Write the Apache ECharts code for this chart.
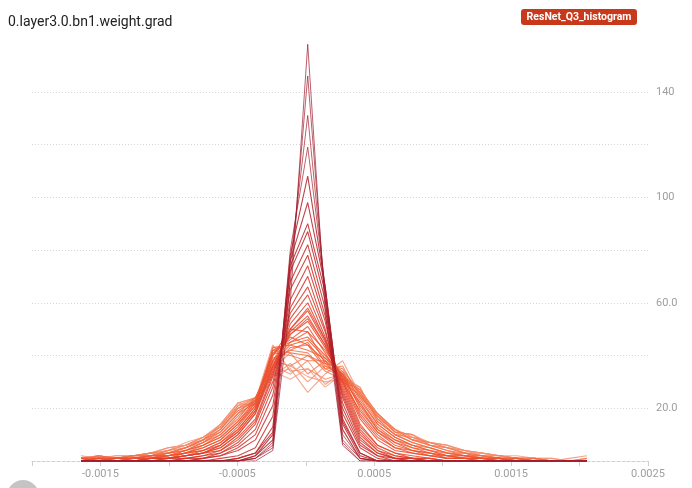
<!DOCTYPE html>
<html><head><meta charset="utf-8">
<script src="https://cdn.jsdelivr.net/npm/echarts@6/dist/echarts.min.js"></script>
<style>html,body{margin:0;padding:0;background:#fff}#c{width:692px;height:488px}</style>
</head><body><div id="c"></div>
<script>
const chartTitle = '0.layer3.0.bn1.weight.grad';
const runName = 'ResNet_Q3_histogram';

const binCenters = [-0.001642,-0.0015146,-0.0013872,-0.0012598,-0.0011324,-0.001005,-0.0008776,-0.0007502,-0.0006228,-0.0004954,
  -0.000368,-0.0002406,-0.0001132,0.0000142,0.0001416,0.000269,0.0003964,0.0005238,0.0006512,0.0007786,
  0.000906,0.0010334,0.0011608,0.0012882,0.0014156,0.001543,0.0016704,0.0017978,0.0019252,0.0020526];

const earlySteps = [
  [0,0,0,0,0,0,0,0,0,0,0,4,60,158,57,6,0,0,0,0,0,0,0,0,0,0,0,0,0,0],
  [0,0,0,0,0,0,0,0,0,0,1,5,68,146,61,7,0,0,0,0,0,0,0,0,0,0,0,0,0,0],
  [0,0,0,0,0,0,0,0,0,0,1,6,75,131,64,8,1,0,0,0,0,0,0,0,0,0,0,0,0,0],
  [0,0,0,0,0,0,0,0,0,0,1,7,80,119,66,10,1,0,0,0,0,0,0,0,0,0,0,0,0,0],
  [0,0,0,0,0,0,0,0,0,0,2,8,78,108,66,12,1,0,0,0,0,0,0,0,0,0,0,0,0,0],
  [0,0,0,0,0,0,0,0,0,0,2,10,76,98,66,14,2,0,0,0,0,0,0,0,0,0,0,0,0,0],
  [0,0,0,0,0,0,0,0,0,1,3,11,74,90,64,15,3,0,0,0,0,0,0,0,0,0,0,0,0,0],
  [0,0,0,0,0,0,0,0,0,1,3,13,72,87,61,16,3,0,0,0,0,0,0,0,0,0,0,0,0,0]
];
const midSteps = [
  [0,0,0,0,0,0,0,0,1,2,5,17,68,82,58,18,5,1,0,0,0,0,0,0,0,0,0,0,0,0],
  [0,0,0,0,0,0,0,1,2,4,8,21,65,78,55,20,6,2,0,0,0,0,0,0,0,0,0,0,0,0],
  [0,0,0,0,0,0,0,1,2,5,10,25,61,74,53,22,7,2,1,0,0,0,0,0,0,0,0,0,0,0],
  [0,0,0,0,0,0,1,1,3,6,12,28,58,70,50,24,8,3,1,0,0,0,0,0,0,0,0,0,0,0],
  [0,0,0,0,0,0,1,2,3,7,14,30,56,66,49,25,9,3,1,1,0,0,0,0,0,0,0,0,0,0],
  [0,0,0,0,0,1,1,2,4,8,15,32,54,63,47,26,10,4,1,1,0,0,0,0,0,0,0,0,0,0],
  [0,0,0,0,0,1,2,3,4,9,16,33,52,60,46,27,11,4,2,1,0,0,0,0,0,0,0,0,0,0],
  [0,0,0,0,1,1,2,3,5,10,18,34,50,57,45,28,12,5,2,1,1,0,0,0,0,0,0,0,0,0],
  [0,0,0,0,1,1,2,3,6,11,19,35,49,55,44,29,13,6,3,1,1,0,0,0,0,0,0,0,0,0],
  [0,0,0,0,1,1,2,4,6,12,20,36,48,53,43,30,14,6,3,2,1,0,0,0,0,0,0,0,0,0]
];
const lateSteps = [
  [0,0,0,0,1,1,2,3,5,10,18,36,50,58,46,30,16,8,4,3,2,1,1,0,0,0,0,0,0,0],
  [0,1,0,1,1,1,2,3,6,11,19,38,48,54,44,31,17,9,5,3,2,1,1,1,0,0,0,0,0,0],
  [0,0,1,1,1,1,3,4,7,12,20,40,50,49,42,32,18,10,5,4,2,2,1,0,1,0,0,0,0,0],
  [1,0,1,1,1,2,3,4,7,13,21,41,46,51,41,30,19,11,6,4,3,1,1,1,0,0,0,0,0,0],
  [0,1,0,1,1,2,3,5,8,14,22,42,45,47,40,33,20,11,7,4,3,2,1,1,1,0,0,0,0,0],
  [1,0,1,1,2,2,3,5,8,14,21,43,44,46,39,32,21,12,7,5,3,2,2,1,0,1,0,0,0,0],
  [0,1,1,1,1,2,4,6,9,15,23,40,47,44,38,33,22,12,8,5,4,2,1,1,1,0,0,0,0,0],
  [1,1,0,1,2,2,3,6,9,15,22,38,45,49,37,31,22,13,8,6,4,2,2,1,1,0,0,0,0,0],
  [0,1,1,1,1,3,4,6,10,16,24,37,44,42,39,34,23,14,9,6,4,3,2,1,1,0,0,0,0,0],
  [1,1,1,1,2,2,4,7,10,17,23,39,42,45,36,33,24,14,9,6,5,3,2,1,1,1,0,0,0,0],
  [0,2,1,1,2,3,4,7,11,18,22,42,41,40,37,35,25,15,10,7,5,3,2,2,1,0,1,0,0,0],
  [1,1,1,2,2,3,5,8,11,18,24,36,43,44,35,32,26,16,10,7,5,3,3,1,1,1,0,0,0,0],
  [1,1,1,2,3,3,5,8,12,19,23,41,40,38,38,30,25,17,11,8,6,4,2,2,1,1,0,0,0,0],
  [1,1,1,2,2,4,5,8,12,20,24,38,42,41,34,31,27,18,12,8,6,4,3,2,1,1,0,0,0,1]
];
const latestSteps = [
  [1,2,1,1,2,3,5,7,12,20,22,38,36,40,35,36,24,18,12,9,7,5,3,2,1,1,1,0,0,0],
  [1,1,1,2,2,3,5,8,13,21,24,35,41,33,38,30,27,17,11,10,6,5,3,2,2,1,0,0,0,0],
  [2,1,1,2,2,4,6,9,13,19,23,44,34,35,31,33,26,16,12,8,7,6,4,2,1,1,1,0,0,0],
  [1,2,1,2,3,4,6,8,14,22,24,32,37,30,36,32,28,15,10,9,7,5,4,3,2,1,1,0,0,1],
  [1,1,2,2,3,5,6,9,13,21,22,36,33,38,29,34,27,18,11,10,6,5,3,2,2,1,1,0,1,2],
  [0,2,1,2,3,5,6,9,14,20,23,33,35,26,33,38,25,17,12,8,7,6,4,3,2,1,1,1,0,0],
  [1,1,2,2,3,4,7,9,13,22,24,30,36,32,30,31,28,16,10,9,6,5,4,3,2,2,1,0,0,0],
  [1,2,1,2,3,5,6,8,14,22,21,34,31,35,28,33,26,18,11,10,7,6,3,3,2,1,1,1,0,0]
];

const xLabelValues = [-0.0015, -0.0005, 0.0005, 0.0015, 0.0025];
const xLabelTexts = ['-0.0015', '-0.0005', '0.0005', '0.0015', '0.0025'];
const yLabelValues = [20, 60, 100, 140];
const yLabelTexts = ['20.0', '60.0', '100', '140'];

// styling helpers (colour ramp from oldest to newest step)
const colorStops = ['#9c1a2c', '#c42a2a', '#e6452d', '#f0582f', '#f37a55', '#f6a386'];
function hex2rgb(h){return [parseInt(h.slice(1,3),16),parseInt(h.slice(3,5),16),parseInt(h.slice(5,7),16)];}
function rampColor(t){
  const n = colorStops.length - 1;
  const p = Math.min(n - 1e-9, Math.max(0, t * n));
  const k = Math.floor(p), f = p - k;
  const a = hex2rgb(colorStops[k]), b = hex2rgb(colorStops[k+1]);
  const c = a.map((v,i)=>Math.round(v + (b[i]-v)*f));
  return 'rgb(' + c.join(',') + ')';
}

const allSteps = [].concat(earlySteps, midSteps, lateSteps, latestSteps);
const series = [];
for (let s = allSteps.length - 1; s >= 0; s--) {
  const t = s / (allSteps.length - 1);
  series.push({
    type: 'line',
    data: allSteps[s].map((v, i) => [binCenters[i], v]),
    showSymbol: false,
    symbol: 'none',
    silent: true,
    lineStyle: { width: s < 4 ? 1 : 1.1, color: rampColor(t), opacity: s < 4 ? 0.7 : 0.85 },
    z: 2
  });
}

function findLabel(v, vals, texts, tol){
  for (let i = 0; i < vals.length; i++) if (Math.abs(vals[i] - v) < tol) return texts[i];
  return '';
}

const chart = echarts.init(document.getElementById('c'), null, { renderer: 'canvas' });
chart.setOption({
  animation: false,
  backgroundColor: '#fff',
  textStyle: { fontFamily: 'Roboto' },
  title: {
    text: chartTitle, left: 3, top: 10,
    textStyle: { fontFamily: 'Roboto', fontSize: 14, fontWeight: 'normal', color: '#212121' }
  },
  graphic: [
    { type: 'rect', left: 521, top: 9, shape: { width: 116, height: 16, r: 3 }, style: { fill: '#c8391b' }, z: 10 },
    { type: 'text', x: 579, y: 17, style: { text: runName, fill: '#fff', font: 'bold 10.5px Roboto', textAlign: 'center', textVerticalAlign: 'middle' }, z: 11 },
    { type: 'circle', shape: { cx: 23, cy: 496, r: 16 }, style: { fill: '#c4c4c4' }, z: 10 }
  ],
  grid: { left: 32, right: 44, top: 39, bottom: 27, containLabel: false },
  xAxis: {
    type: 'value', min: -0.002, max: 0.0025, interval: 0.0005,
    axisLine: { show: true, onZero: false, lineStyle: { color: '#cfcfcf', type: [3, 2], width: 1 } },
    axisTick: { show: true, length: 5, lineStyle: { color: '#cfcfcf' } },
    splitLine: { show: false },
    axisLabel: {
      color: '#9e9e9e', fontSize: 11, fontFamily: 'Roboto', margin: 8,
      formatter: v => findLabel(v, xLabelValues, xLabelTexts, 1e-7)
    }
  },
  yAxis: {
    type: 'value', position: 'right', min: 0, max: 160, interval: 20,
    axisLine: { show: false }, axisTick: { show: false },
    splitLine: { show: true, showMinLine: false, showMaxLine: false, lineStyle: { color: '#d6d6d6', type: [1, 2], width: 1 } },
    axisLabel: {
      color: '#9e9e9e', fontSize: 11, fontFamily: 'Roboto', margin: 8,
      formatter: v => findLabel(v, yLabelValues, yLabelTexts, 1e-6)
    }
  },
  series: series
});
</script></body></html>
